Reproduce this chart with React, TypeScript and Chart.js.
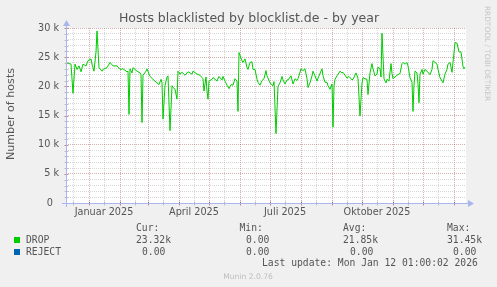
import React, { useEffect, useRef } from 'react';
import { Chart, registerables } from 'chart.js';

Chart.register(...registerables);

// ---- data (x = days since Dec 9 2024, values in thousands of hosts) ----
const days = [
  0, 5, 7, 9, 11, 13, 15, 17, 20, 22, 25, 26, 28, 30, 31, 33, 36, 37, 41, 44, 47, 51, 54, 57, 61, 62, 63, 64, 66, 67,
  71, 74, 75, 76, 77, 80, 81, 84, 87, 91, 93, 95, 96, 97, 99, 101, 102, 104, 106, 107, 109, 111, 112, 114, 116, 119,
  122, 126, 127, 131, 134, 137, 138, 140, 141, 142, 143, 146, 147, 151, 153, 156, 157, 159, 161, 163, 165, 167, 169,
  171, 172, 173, 176, 177, 179, 181, 182, 184, 186, 187, 189, 191, 192, 194, 196, 198, 200, 201, 204, 207, 208, 210,
  212, 214, 216, 217, 219, 221, 222, 225, 227, 229, 231, 232, 235, 237, 239, 241, 242, 244, 246, 247, 249, 251, 252,
  256, 257, 259, 261, 262, 264, 266, 267, 268, 269, 271, 274, 276, 277, 281, 283, 286, 287, 290, 292, 294, 296, 297,
  299, 301, 302, 304, 306, 307, 309, 311, 312, 314, 315, 316, 318, 320, 321, 323, 325, 326, 327, 329, 331, 334, 336,
  337, 339, 341, 342, 344, 346, 347, 348, 349, 351, 352, 353, 354, 356, 357, 359, 361, 364, 366, 367, 369, 371, 372,
  374, 376, 377, 379, 381, 382, 384, 386, 387, 389, 391, 393, 395, 397, 398, 399,
];
const dropK = [
  24.1, 23.8, 18.8, 23.8, 22.9, 23.5, 22.5, 23.8, 23.5, 24.4, 24.7, 23.8, 22.6, 25.9, 29.5, 23.2, 22.6, 22.9, 23.2, 24.1,
  23.5, 23.5, 22.9, 23.0, 22.5, 22.6, 15.2, 23.0, 22.3, 23.2,
  22.6, 22.3, 22.0, 13.8, 21.9, 22.6, 23.0, 21.7, 21.2, 20.6, 20.3, 21.2, 20.6, 14.4, 20.1, 21.6, 21.8, 12.4, 20.1, 19.8,
  19.5, 17.8, 22.6, 22.1, 22.4, 21.9,
  22.5, 22.1, 22.6, 22.1, 21.9, 21.3, 19.2, 21.6, 19.2, 17.8, 20.9, 21.2, 21.5, 20.9, 21.7, 21.1, 21.7, 20.9, 20.2, 19.6,
  20.3, 20.2, 21.3,
  20.9, 15.7, 25.8, 24.4, 24.1, 24.7, 23.2, 22.9, 24.1, 24.2, 22.9, 22.9, 21.2, 20.7, 20.2, 21.0, 21.3, 22.7, 21.8, 20.6,
  20.1, 20.8, 11.9,
  20.0, 20.6, 21.7, 21.1, 20.4, 21.1, 21.1, 21.8, 20.4, 21.3, 21.0, 21.3, 23.0, 22.7, 23.0, 21.3, 19.8, 20.6, 21.8, 22.6,
  21.8, 20.9, 21.4,
  23.0, 21.8, 20.7, 20.7, 20.1, 19.5, 20.4, 13.0, 20.1, 21.2, 21.8, 22.6, 22.3, 22.4, 21.4, 21.7, 21.1, 21.2, 22.3, 21.4,
  14.9, 20.6, 21.5,
  21.3, 21.2, 18.6, 22.3, 23.9, 23.0, 21.8, 22.1, 23.3, 23.0, 21.6, 29.1, 21.3, 20.6, 21.2, 20.9, 23.9, 22.2, 21.3, 21.6,
  21.9, 22.2, 23.9,
  24.1, 23.8, 24.1, 23.5, 21.5, 20.7, 15.7, 20.2, 22.6, 22.3, 20.4, 17.2, 22.1, 22.9, 22.1, 22.9, 22.6, 22.0, 22.9, 24.4,
  24.1, 23.8, 22.9,
  21.5, 20.9, 20.6, 22.1, 22.9, 23.8, 24.1, 22.4, 24.1, 27.5, 27.4, 25.9, 25.9, 23.4, 23.0, 23.3,
];

const xMin = 0;
const xMax = 400;
const monthStarts = [23, 54, 82, 113, 143, 174, 204, 235, 266, 296, 327, 357, 388];
const midMonths = [7, 38, 69, 97, 128, 158, 189, 219, 250, 281, 311, 342, 372];
const xLabelDays = [38, 128, 219, 311];
const xLabels = ['Januar 2025', 'April 2025', 'Juli 2025', 'Oktober 2025'];

const yMax = 30000;
const yMajorStep = 5000;
const yMinorStep = 1000;

const titleText = 'Hosts blacklisted by blocklist.de - by year';
const yTitle = 'Number of hosts';
const seriesNames = ['DROP', 'REJECT'];
const seriesColors = ['#00CC00', '#0066B3'];
const legendHeaders = ['Cur:', 'Min:', 'Avg:', 'Max:'];
const curVals = ['23.32k', '0.00'];
const minVals = ['0.00', '0.00'];
const avgVals = ['21.85k', '0.00'];
const maxVals = ['31.45k', '0.00'];
const lastUpdate = 'Last update: Mon Jan 12 01:00:02 2026';
const muninVersion = 'Munin 2.0.76';
const watermark = 'RRDTOOL / TOBI OETIKER';

// ---- styles ----
const MAJ = 'rgba(130,30,30,0.35)';
const MIN = 'rgba(140,140,140,0.35)';
const AXIS = '#A9B5EE';
const TEXT = '#555555';
const SANS = '"DejaVu Sans", sans-serif';
const MONO = '"DejaVu Sans Mono", monospace';

const muninPlugin = {
  id: 'munin',
  beforeDraw(chart: any) {
    const { ctx, chartArea: a } = chart;
    ctx.save();
    ctx.fillStyle = '#F0F0F0';
    ctx.fillRect(0, 0, chart.width, chart.height);
    ctx.fillStyle = '#FFFFFF';
    ctx.fillRect(a.left, a.top, a.right - a.left, a.bottom - a.top + 1);
    ctx.restore();
  },
  afterDraw(chart: any) {
    const { ctx, chartArea: a, scales } = chart;
    const xs = scales.x;
    const ys = scales.y;
    ctx.save();
    ctx.lineWidth = 1;
    const by = Math.round(a.bottom) + 0.5;
    const lx = Math.round(a.left) + 0.5;
    // tick marks across axes
    for (const v of [...monthStarts, ...midMonths]) {
      const px = Math.round(xs.getPixelForValue(v)) + 0.5;
      ctx.strokeStyle = monthStarts.includes(v) ? 'rgba(130,30,30,0.5)' : 'rgba(140,140,140,0.5)';
      ctx.beginPath();
      ctx.moveTo(px, by - 2);
      ctx.lineTo(px, by + 2);
      ctx.stroke();
    }
    for (let v = 0; v <= yMax; v += yMinorStep) {
      const py = Math.round(ys.getPixelForValue(v)) + 0.5;
      ctx.strokeStyle = v % yMajorStep === 0 ? 'rgba(130,30,30,0.5)' : 'rgba(140,140,140,0.5)';
      ctx.beginPath();
      ctx.moveTo(lx - 2, py);
      ctx.lineTo(lx + 2, py);
      ctx.stroke();
    }
    // axes
    ctx.strokeStyle = AXIS;
    ctx.beginPath();
    ctx.moveTo(a.left - 4, by);
    ctx.lineTo(a.right + 3, by);
    ctx.stroke();
    ctx.beginPath();
    ctx.moveTo(lx, a.bottom + 4);
    ctx.lineTo(lx, a.top - 3);
    ctx.stroke();
    ctx.fillStyle = AXIS;
    ctx.beginPath();
    ctx.moveTo(a.right + 2, by - 3.5);
    ctx.lineTo(a.right + 8, by);
    ctx.lineTo(a.right + 2, by + 3.5);
    ctx.closePath();
    ctx.fill();
    ctx.beginPath();
    ctx.moveTo(lx - 3.5, a.top - 2);
    ctx.lineTo(lx, a.top - 8);
    ctx.lineTo(lx + 3.5, a.top - 2);
    ctx.closePath();
    ctx.fill();

    // title
    ctx.fillStyle = TEXT;
    ctx.font = `12.5px ${SANS}`;
    ctx.textAlign = 'center';
    ctx.textBaseline = 'middle';
    ctx.fillText(titleText, 249, 18.5);

    // y title
    ctx.save();
    ctx.translate(11, 114);
    ctx.rotate(-Math.PI / 2);
    ctx.font = `11.1px ${SANS}`;
    ctx.fillText(yTitle, 0, 0);
    ctx.restore();

    // watermark
    ctx.save();
    ctx.translate(487, 53.5);
    ctx.rotate(Math.PI / 2);
    ctx.fillStyle = '#C4C4C4';
    ctx.font = `7.4px ${SANS}`;
    ctx.fillText(watermark, 0, 0);
    ctx.restore();

    // legend
    ctx.font = `9.7px ${MONO}`;
    ctx.textAlign = 'left';
    ctx.fillStyle = TEXT;
    const hx = [136, 239.5, 343, 447];
    legendHeaders.forEach((h, i) => ctx.fillText(h, hx[i], 228.5));
    const rowsY = [240, 252];
    const colX = [
      [136, 246, 343, 447],
      [142, 246, 350, 453],
    ];
    seriesNames.forEach((name, i) => {
      const ry = rowsY[i];
      ctx.fillStyle = seriesColors[i];
      ctx.fillRect(14, ry - 3, 6, 6);
      ctx.fillStyle = TEXT;
      ctx.fillText(name, 26, ry);
      const vals = [curVals[i], minVals[i], avgVals[i], maxVals[i]];
      vals.forEach((v, j) => ctx.fillText(v, colX[i][j], ry));
    });
    ctx.fillText(lastUpdate, 262, 263.5);

    ctx.font = `7.6px ${SANS}`;
    ctx.fillStyle = '#BDBDBD';
    ctx.textAlign = 'center';
    ctx.fillText(muninVersion, 248, 277);
    ctx.restore();
  },
};

export default function App() {
  const ref = useRef<HTMLCanvasElement | null>(null);
  useEffect(() => {
    document.body.style.margin = '0';
    const canvas = ref.current;
    if (!canvas) return;
    const points = days.map((d, i) => ({ x: d, y: dropK[i] * 1000 }));
    const chart = new Chart(canvas, {
      type: 'line',
      data: {
        datasets: [
          {
            label: seriesNames[0],
            data: points,
            borderColor: seriesColors[0],
            backgroundColor: seriesColors[0],
            borderWidth: 1,
            pointRadius: 0,
            tension: 0,
          },
        ],
      },
      options: {
        animation: false,
        responsive: false,
        devicePixelRatio: 1,
        events: [],
        layout: { padding: { top: 28, right: 31, left: 0, bottom: 0 } },
        plugins: { legend: { display: false }, tooltip: { enabled: false }, title: { display: false } },
        scales: {
          x: {
            type: 'linear',
            min: xMin,
            max: xMax,
            afterBuildTicks: (scale: any) => {
              scale.ticks = [...monthStarts, ...midMonths].sort((p, q) => p - q).map((v) => ({ value: v }));
            },
            afterFit: (scale: any) => {
              scale.height = 84;
            },
            ticks: {
              autoSkip: false,
              maxRotation: 0,
              padding: 4,
              color: TEXT,
              font: { family: SANS, size: 9.7 },
              callback: (v: any) => {
                const i = xLabelDays.indexOf(Number(v));
                return i >= 0 ? xLabels[i] : '';
              },
            },
            grid: {
              drawTicks: false,
              lineWidth: 1,
              color: (c: any) => (c.tick && monthStarts.includes(c.tick.value) ? MAJ : MIN),
            },
            border: { display: false, dash: [1, 1] },
          },
          y: {
            min: 0,
            max: yMax,
            afterBuildTicks: (scale: any) => {
              const t = [];
              for (let v = 0; v <= yMax; v += yMinorStep) t.push({ value: v });
              scale.ticks = t;
            },
            afterFit: (scale: any) => {
              scale.width = 66;
            },
            ticks: {
              autoSkip: false,
              padding: 7,
              color: TEXT,
              font: { family: SANS, size: 9.7 },
              callback: (v: any) => {
                const n = Number(v);
                if (n % yMajorStep !== 0) return '';
                return n === 0 ? '0  ' : `${n / 1000} k`;
              },
            },
            grid: {
              drawTicks: false,
              lineWidth: 1,
              color: (c: any) => (c.tick && c.tick.value % yMajorStep === 0 ? MAJ : MIN),
            },
            border: { display: false, dash: [1, 1] },
          },
        },
      },
      plugins: [muninPlugin],
    } as any);
    return () => chart.destroy();
  }, []);
  return (
    <div style={{ width: 497, height: 287 }}>
      <canvas ref={ref} width={497} height={287} style={{ display: 'block' }} />
    </div>
  );
}
